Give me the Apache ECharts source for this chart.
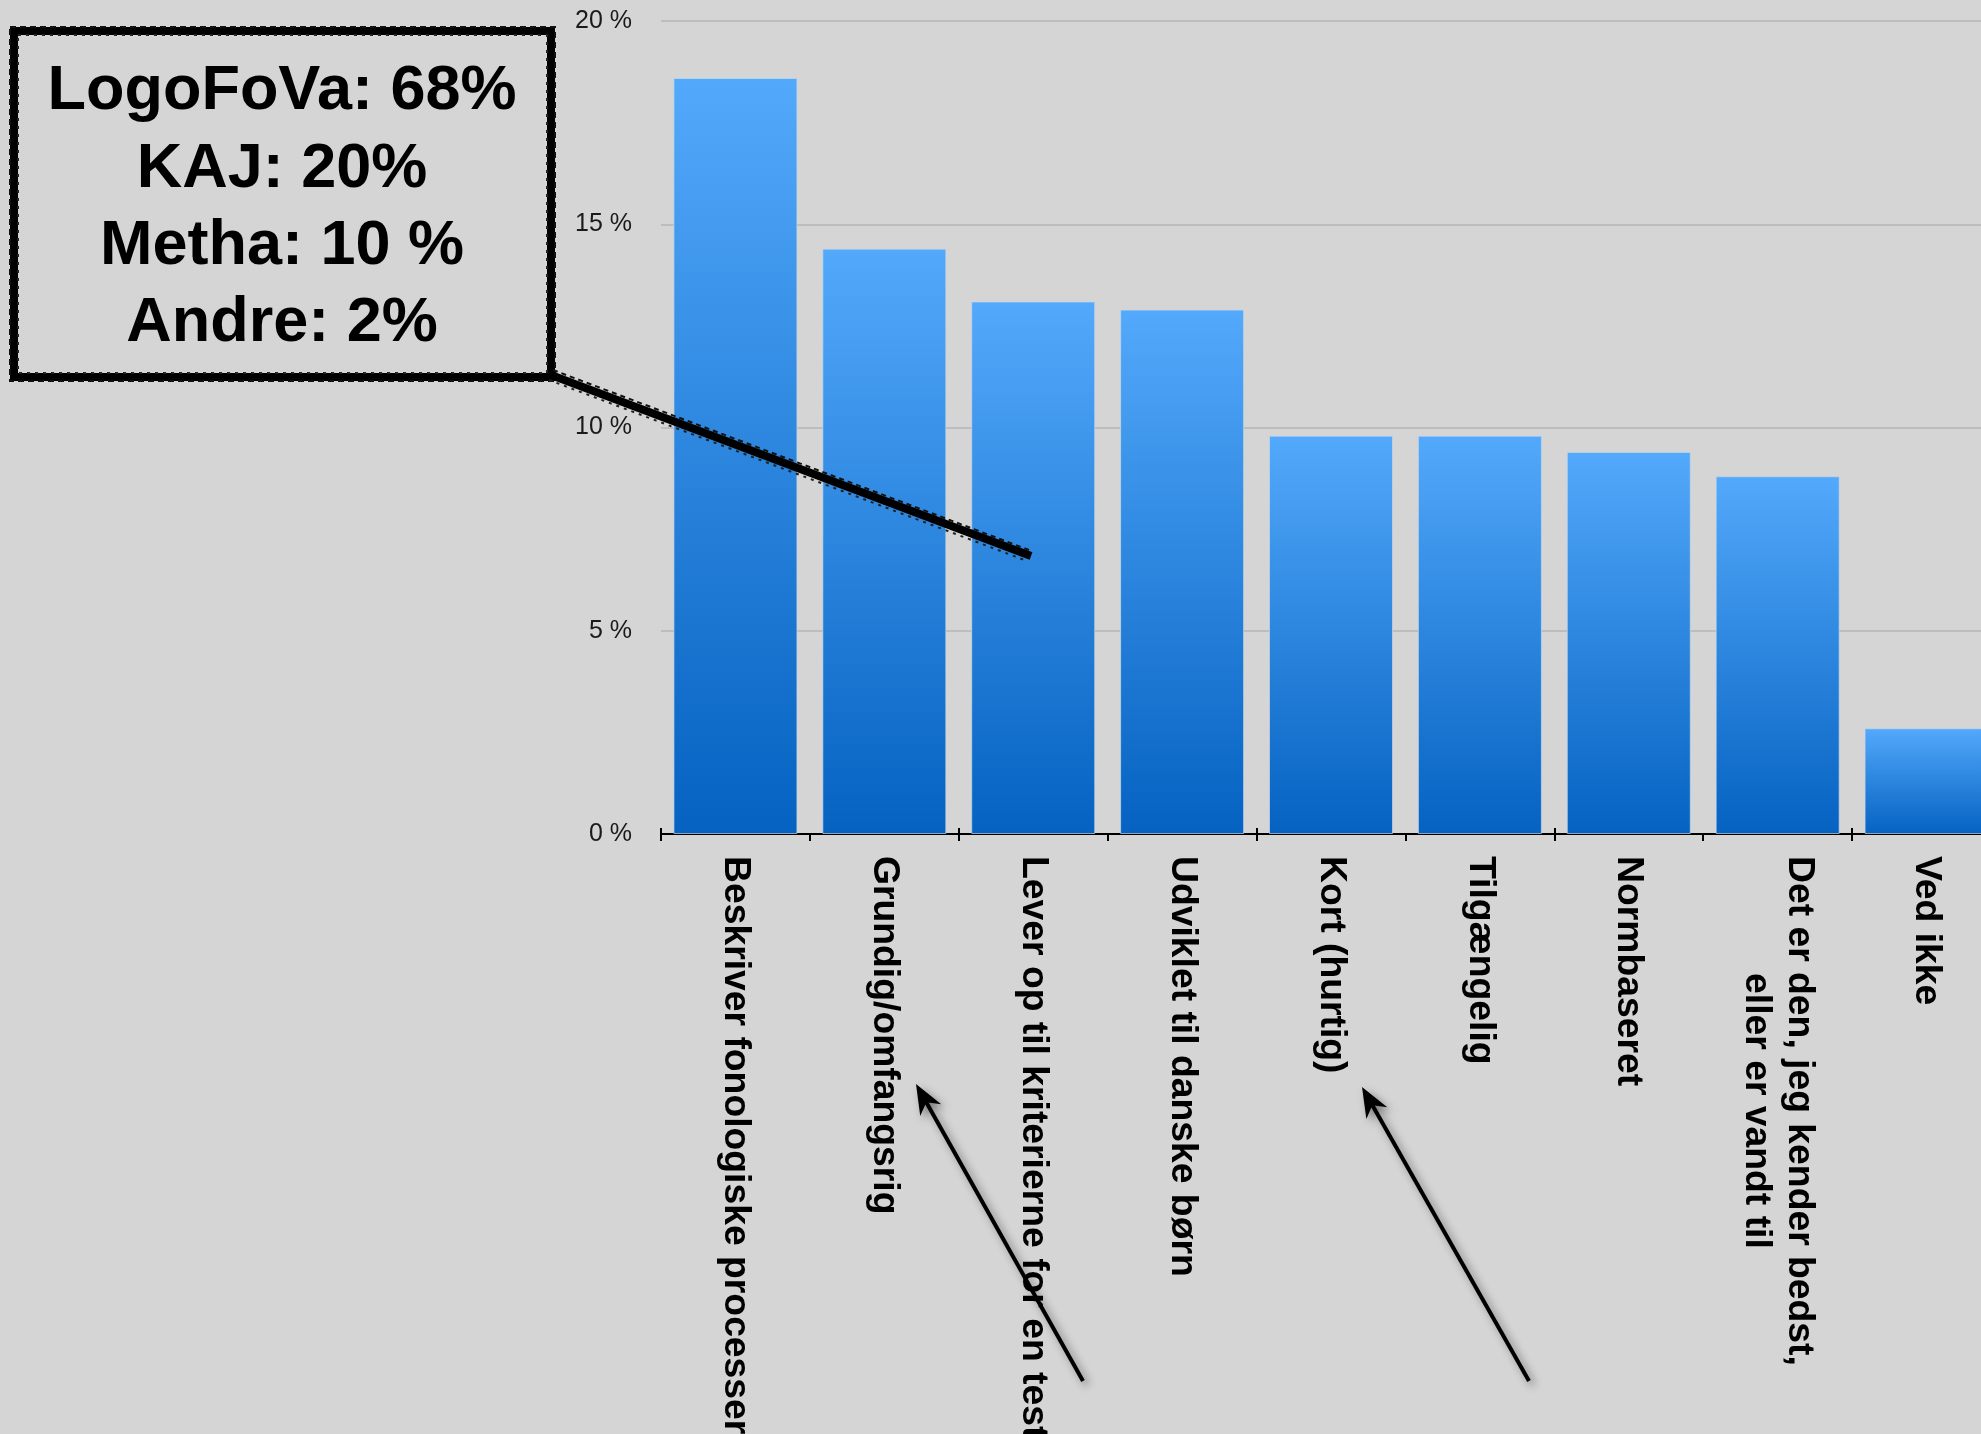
<!DOCTYPE html>
<html>
<head>
<meta charset="utf-8">
<script src="https://cdn.jsdelivr.net/npm/echarts@6/dist/echarts.min.js"></script>
<style>
html,body{margin:0;padding:0;background:#d5d5d5;}
#chart{width:1981px;height:1434px;}
</style>
</head>
<body>
<div id="chart"></div>
<script>
const categories = [
  'Beskriver fonologiske processer',
  'Grundig/omfangsrig',
  'Lever op til kriterierne for en test',
  'Udviklet til danske børn',
  'Kort (hurtig)',
  'Tilgængelig',
  'Normbaseret',
  'Det er den, jeg kender bedst,\neller er vandt til',
  'Ved ikke'
];
const values = [18.6, 14.4, 13.1, 12.9, 9.8, 9.8, 9.4, 8.8, 2.6];
const yTicks = [0, 5, 10, 15, 20];
const boxLines = ['LogoFoVa: 68%', 'KAJ: 20%', 'Metha: 10 %', 'Andre: 2%'];

const chart = echarts.init(document.getElementById('chart'));

function arrow(tail, tip) {
  const dx = tip[0] - tail[0], dy = tip[1] - tail[1];
  const len = Math.sqrt(dx * dx + dy * dy);
  const ux = dx / len, uy = dy / len;
  const nx = -uy, ny = ux;
  const hl = 30, hw = 12;
  const bx = tip[0] - hl * ux, by = tip[1] - hl * uy;
  const nb = [tip[0] - (hl * 0.7) * ux, tip[1] - (hl * 0.7) * uy];
  const shadow = {shadowBlur: 8, shadowColor: 'rgba(0,0,0,0.45)', shadowOffsetX: 4, shadowOffsetY: 4};
  return [
    {type: 'line', shape: {x1: tail[0], y1: tail[1], x2: nb[0], y2: nb[1]},
     style: Object.assign({stroke: '#000', lineWidth: 4}, shadow), z: 100},
    {type: 'polygon', shape: {points: [tip, [bx + hw * nx, by + hw * ny], nb, [bx - hw * nx, by - hw * ny]]},
     style: Object.assign({fill: '#000'}, shadow), z: 100}
  ];
}

const graphics = [];
// annotation box
graphics.push({type: 'rect', shape: {x: 14, y: 31, width: 537, height: 346},
  style: {fill: 'none', stroke: '#000', lineWidth: 8}, z: 100});
graphics.push({type: 'rect', shape: {x: 10, y: 27, width: 545, height: 354},
  style: {fill: 'none', stroke: '#111', lineWidth: 2, lineDash: [6, 4]}, z: 100});
graphics.push({type: 'rect', shape: {x: 18, y: 35, width: 529, height: 338},
  style: {fill: 'none', stroke: '#222', lineWidth: 2, lineDash: [3, 5]}, z: 100});
// pointer line from box
graphics.push({type: 'line', shape: {x1: 551, y1: 375, x2: 1031, y2: 556},
  style: {stroke: '#000', lineWidth: 8}, z: 100});
graphics.push({type: 'line', shape: {x1: 553, y1: 370, x2: 1029, y2: 550},
  style: {stroke: '#111', lineWidth: 2, lineDash: [5, 4]}, z: 100});
graphics.push({type: 'line', shape: {x1: 549, y1: 380, x2: 1027, y2: 561},
  style: {stroke: '#222', lineWidth: 2, lineDash: [3, 5]}, z: 100});
boxLines.forEach(function (t, i) {
  graphics.push({type: 'text', x: 282, y: 92 + i * 77.3, z: 101,
    style: {text: t, fill: '#000', font: 'bold 63px "Liberation Sans", Arial, sans-serif',
      textAlign: 'center', textVerticalAlign: 'middle'}});
});
arrow([1083, 1381], [916, 1084]).forEach(g => graphics.push(g));
arrow([1529, 1381], [1362, 1087]).forEach(g => graphics.push(g));

const option = {
  backgroundColor: '#d5d5d5',
  animation: false,
  grid: {left: 661, top: 21, width: 1340, height: 813, containLabel: false, outerBoundsMode: 'none'},
  xAxis: [{
    type: 'category',
    data: categories,
    axisLine: {show: true, lineStyle: {color: '#000', width: 2}},
    axisTick: {show: true, length: 7, lineStyle: {color: '#000', width: 2}},
    axisLabel: {
      rotate: -90, interval: 0, margin: 22,
      fontSize: 37.3, fontWeight: 'bold', color: '#000',
      fontFamily: '"Liberation Sans", Arial, sans-serif',
      formatter: function (v) {
        return v.split('\n').map(s => '{c|' + s + '}').join('\n');
      },
      rich: {c: {align: 'center', fontSize: 37.3, fontWeight: 'bold', color: '#000',
        fontFamily: '"Liberation Sans", Arial, sans-serif', lineHeight: 43}}
    },
    splitLine: {show: false}
  }, {
    type: 'category',
    data: categories,
    position: 'bottom',
    axisLine: {show: false},
    axisTick: {show: true, inside: true, length: 6, lineStyle: {color: '#000', width: 2}},
    axisLabel: {show: false},
    splitLine: {show: false}
  }],
  yAxis: {
    type: 'value', min: yTicks[0], max: yTicks[yTicks.length - 1], interval: 5,
    axisLine: {show: false}, axisTick: {show: false},
    axisLabel: {formatter: '{value} %', fontSize: 25, color: '#1a1a1a', margin: 29,
      fontFamily: '"Liberation Sans", Arial, sans-serif'},
    splitLine: {show: true, lineStyle: {color: '#bdbdbd', width: 2}}
  },
  series: [{
    type: 'bar',
    data: values,
    barWidth: 124,
    itemStyle: {
      color: new echarts.graphic.LinearGradient(0, 0, 0, 1, [
        {offset: 0, color: '#53a9fb'},
        {offset: 1, color: '#0562c1'}
      ]),
      borderColor: 'rgba(200,215,230,0.7)', borderWidth: 1
    }
  }],
  graphic: graphics
};
chart.setOption(option);
</script>
</body>
</html>
